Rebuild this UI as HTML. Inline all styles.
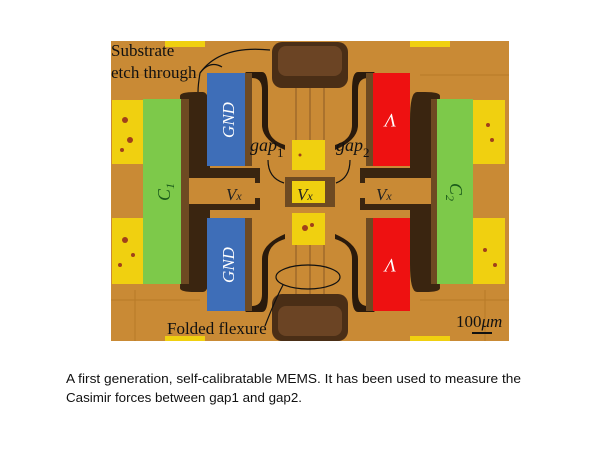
<!DOCTYPE html>
<html><head><meta charset="utf-8"><style>
html,body{margin:0;padding:0;background:#fff;width:600px;height:450px;overflow:hidden}
</style></head><body>
<svg width="600" height="450" viewBox="0 0 600 450" xmlns="http://www.w3.org/2000/svg">
<rect x="0" y="0" width="600" height="450" fill="#fff"/>
<g>
<rect x="111" y="41" width="398" height="300" fill="#c98a35"/>
<g stroke="#b87a28" stroke-width="1" fill="none">
<path d="M111 75 H200 M111 300 H200 M420 75 H509 M420 300 H509 M135 290 V341 M485 290 V341"/>
</g>
<g fill="#2a1a0c">
<path d="M180 96 Q180 92 195 92 H203 Q210 92 210 120 V168 H260 V183 H255 V178 H182 Z" opacity="0.9"/>
<path d="M180 288 Q180 292 195 292 H203 Q210 292 210 264 V210 H260 V198 H255 V204 H182 Z" opacity="0.9"/>
<path d="M440 96 Q440 92 425 92 H417 Q410 92 410 120 V168 H360 V183 H365 V178 H438 Z" opacity="0.9"/>
<path d="M440 288 Q440 292 425 292 H417 Q410 292 410 264 V210 H360 V198 H365 V204 H438 Z" opacity="0.9"/>
<path d="M245 72 H262 Q268 72 268 90 V125 Q268 140 285 145 V150 Q262 140 262 125 V90 Q262 78 252 78 Z"/>
<path d="M375 72 H358 Q352 72 352 90 V125 Q352 140 335 145 V150 Q358 140 358 125 V90 Q358 78 368 78 Z"/>
<path d="M245 312 H262 Q268 312 268 294 V259 Q268 244 285 239 V234 Q262 244 262 259 V294 Q262 306 252 306 Z"/>
<path d="M375 312 H358 Q352 312 352 294 V259 Q352 244 335 239 V234 Q358 244 358 259 V294 Q358 306 368 306 Z"/>
</g>
<rect x="272" y="42" width="76" height="46" rx="10" fill="#4a2e16"/>
<rect x="278" y="46" width="64" height="30" rx="8" fill="#6b4424"/>
<rect x="272" y="294" width="76" height="47" rx="10" fill="#4a2e16"/>
<rect x="278" y="306" width="64" height="30" rx="8" fill="#6b4424"/>
<g stroke="#8a5a25" stroke-width="1">
<path d="M296 88 V140 M310 88 V140 M324 88 V140 M296 245 V294 M310 245 V294 M324 245 V294"/>
</g>
<g fill="#6e4a22">
<rect x="181" y="99" width="8" height="185"/><rect x="431" y="99" width="6" height="185"/>
<rect x="245" y="73" width="7" height="93"/><rect x="245" y="218" width="7" height="93"/>
<rect x="366" y="73" width="7" height="93"/><rect x="366" y="218" width="7" height="93"/>
<rect x="285" y="177" width="50" height="30"/>
</g>
<g fill="#f0d010">
<rect x="112" y="100" width="31" height="64"/><rect x="112" y="218" width="31" height="66"/>
<rect x="473" y="100" width="32" height="64"/><rect x="473" y="218" width="32" height="66"/>
<rect x="292" y="140" width="33" height="30"/><rect x="292" y="181" width="33" height="22"/><rect x="292" y="213" width="33" height="32"/>
<rect x="165" y="41" width="40" height="6"/><rect x="410" y="41" width="40" height="6"/>
<rect x="165" y="336" width="40" height="5"/><rect x="410" y="336" width="40" height="5"/>
</g>
<g fill="#a0401a">
<circle cx="125" cy="120" r="3"/><circle cx="130" cy="140" r="3"/><circle cx="122" cy="150" r="2"/>
<circle cx="125" cy="240" r="3"/><circle cx="133" cy="255" r="2"/><circle cx="120" cy="265" r="2"/>
<circle cx="488" cy="125" r="2"/><circle cx="492" cy="140" r="2"/><circle cx="485" cy="250" r="2"/><circle cx="495" cy="265" r="2"/>
<circle cx="305" cy="228" r="3"/><circle cx="312" cy="225" r="2"/><circle cx="300" cy="155" r="1.5"/>
</g>
<rect x="143" y="99" width="38" height="185" fill="#7dc94a"/>
<rect x="437" y="99" width="36" height="185" fill="#7dc94a"/>
<rect x="207" y="73" width="38" height="93" fill="#3e6eb8"/>
<rect x="207" y="218" width="38" height="93" fill="#3e6eb8"/>
<rect x="373" y="73" width="37" height="93" fill="#ee1111"/>
<rect x="373" y="218" width="37" height="93" fill="#ee1111"/>
<g font-family="Liberation Serif, serif" font-style="italic">
<text x="0" y="0" transform="translate(234,120) rotate(-90)" font-size="17" fill="#fff" text-anchor="middle">GND</text>
<text x="0" y="0" transform="translate(234,265) rotate(-90)" font-size="17" fill="#fff" text-anchor="middle">GND</text>
<text x="0" y="0" transform="translate(391,114) rotate(180)" font-size="19" fill="#fff" text-anchor="middle">V</text>
<text x="0" y="0" transform="translate(391,259) rotate(180)" font-size="19" fill="#fff" text-anchor="middle">V</text>
<text x="0" y="0" transform="translate(170,192) rotate(-90)" font-size="18" fill="#1a5a1a" text-anchor="middle">C<tspan font-size="12" dy="4">1</tspan></text>
<text x="0" y="0" transform="translate(450,192) rotate(90)" font-size="18" fill="#1a5a1a" text-anchor="middle">C<tspan font-size="12" dy="4">2</tspan></text>
<text x="226" y="200" font-size="17" fill="#222">V<tspan font-size="12">x</tspan></text>
<text x="376" y="200" font-size="17" fill="#222">V<tspan font-size="12">x</tspan></text>
<text x="297" y="200" font-size="17" fill="#222">V<tspan font-size="12">x</tspan></text>
<text x="250" y="151" font-size="18" fill="#111">gap<tspan font-size="13" dy="6" font-style="normal">1</tspan></text>
<text x="336" y="151" font-size="18" fill="#111">gap<tspan font-size="13" dy="6" font-style="normal">2</tspan></text>
<text x="456" y="327" font-size="17" fill="#111" font-style="normal">100<tspan font-style="italic">μm</tspan></text>
</g>
<rect x="472" y="332" width="20" height="2" fill="#111"/>
<g font-family="Liberation Serif, serif" font-size="17" fill="#111">
<text x="111" y="56">Substrate</text>
<text x="111" y="78">etch through</text>
<text x="167" y="334">Folded flexure</text>
</g>
<g fill="none" stroke="#111" stroke-width="1.2">
<path d="M200 73 Q220 45 270 50"/><path d="M200 73 Q210 60 222 67"/><path d="M200 73 Q198 85 198 92"/>
<path d="M268 160 Q268 178 284 183"/><path d="M350 160 Q350 178 336 183"/>
<ellipse cx="308" cy="277" rx="32" ry="12"/>
<path d="M265 326 Q275 300 283 285"/>
</g>
</g>
<g font-family="Liberation Sans, sans-serif" font-size="13" fill="#111">
<text x="66" y="383" textLength="455" lengthAdjust="spacingAndGlyphs">A first generation, self-calibratable MEMS. It has been used to measure the</text>
<text x="66" y="402" textLength="236" lengthAdjust="spacingAndGlyphs">Casimir forces between gap1 and gap2.</text>
</g>
</svg>
</body></html>
